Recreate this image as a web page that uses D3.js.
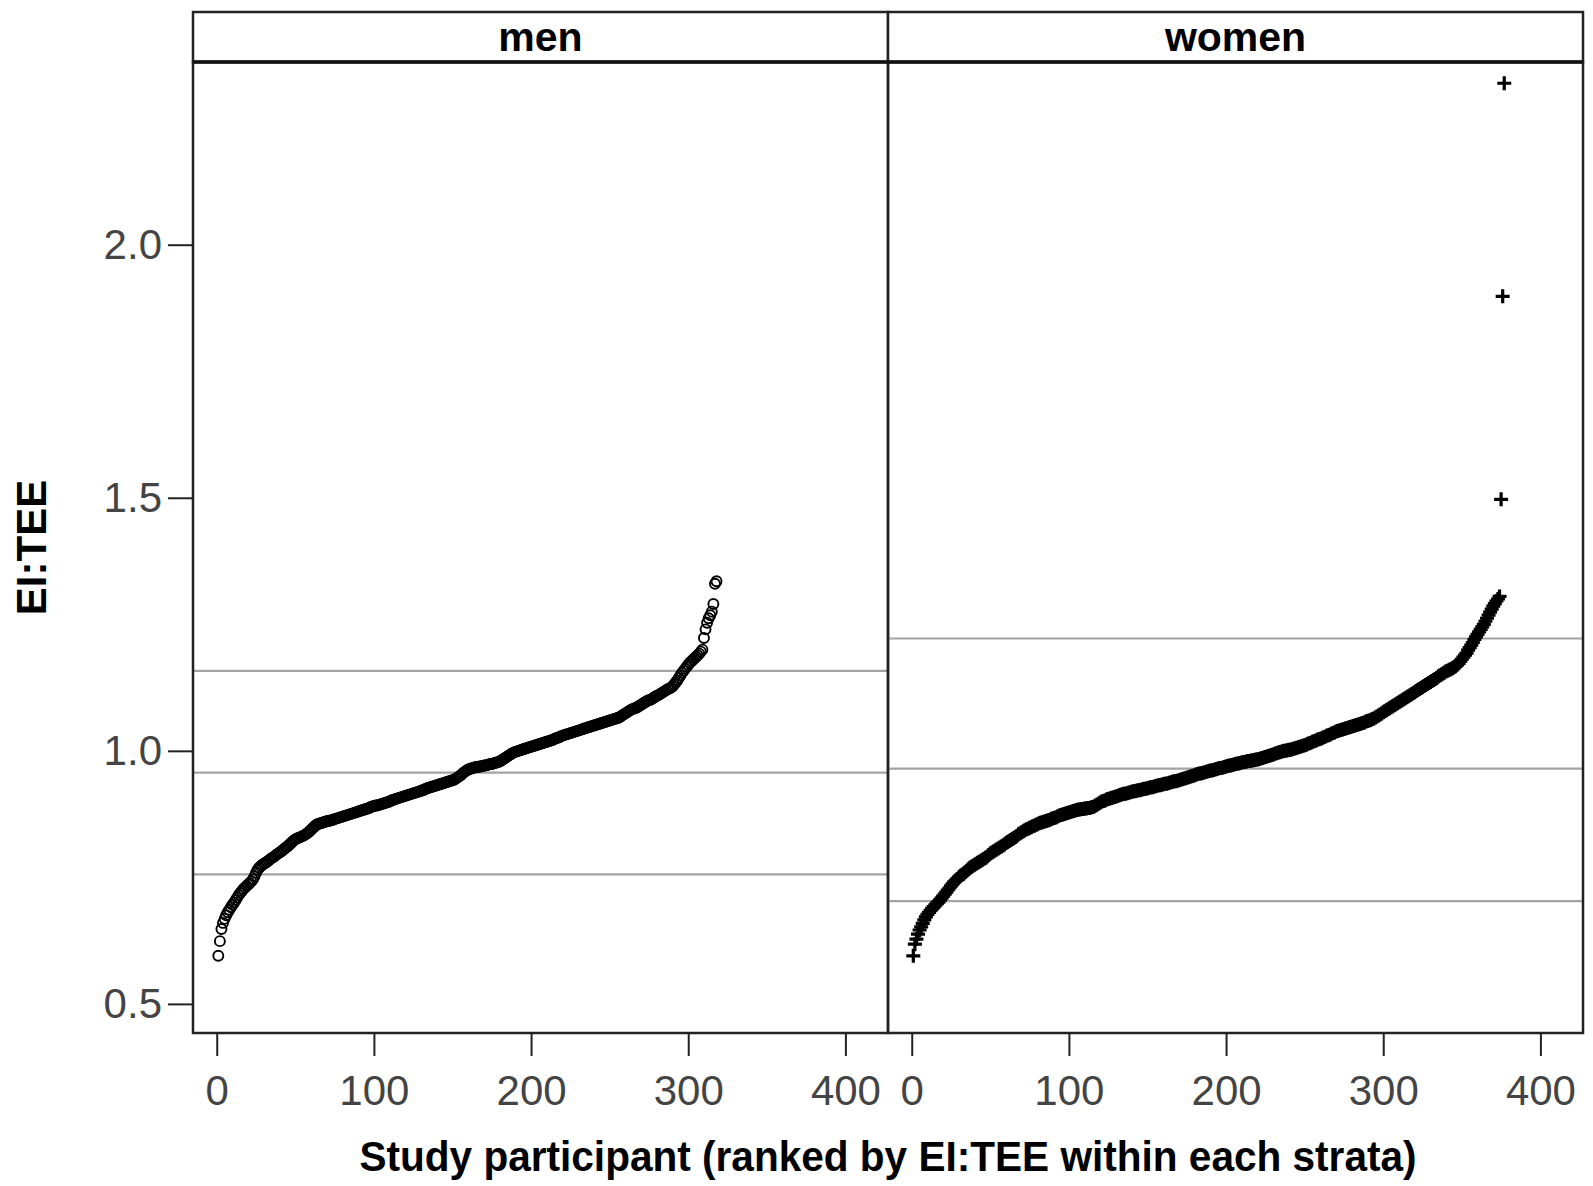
<!DOCTYPE html>
<html>
<head>
<meta charset="utf-8">
<script src="https://cdn.jsdelivr.net/npm/d3@7"></script>
<style>
  html, body { margin: 0; padding: 0; background: #fff; }
  text { font-family: "Liberation Sans", Arial, sans-serif; }
</style>
</head>
<body>
<svg id="chart" width="1593" height="1186"></svg>
<script>
// EI:TEE ranked within each stratum

const panels = ["men", "women"];

const menValues = [
  0.595, 0.624, 0.648, 0.660, 0.668, 0.675, 0.681, 0.686, 0.691, 0.696,
  0.700, 0.705, 0.710, 0.715, 0.719, 0.723, 0.727, 0.730, 0.733, 0.736,
  0.739, 0.742, 0.746, 0.752, 0.759, 0.765, 0.769, 0.772, 0.775, 0.777,
  0.779, 0.781, 0.783, 0.786, 0.788, 0.790, 0.792, 0.795, 0.797, 0.799,
  0.801, 0.804, 0.806, 0.809, 0.811, 0.814, 0.817, 0.820, 0.823, 0.825,
  0.827, 0.828, 0.829, 0.831, 0.832, 0.834, 0.836, 0.838, 0.841, 0.844,
  0.847, 0.850, 0.853, 0.855, 0.856, 0.857, 0.858, 0.859, 0.860, 0.861,
  0.862, 0.862, 0.863, 0.864, 0.865, 0.866, 0.867, 0.868, 0.869, 0.870,
  0.871, 0.872, 0.873, 0.874, 0.875, 0.876, 0.877, 0.878, 0.879, 0.880,
  0.881, 0.882, 0.883, 0.884, 0.885, 0.886, 0.887, 0.889, 0.890, 0.891,
  0.892, 0.892, 0.893, 0.894, 0.895, 0.896, 0.897, 0.898, 0.899, 0.900,
  0.902, 0.903, 0.904, 0.905, 0.906, 0.907, 0.908, 0.909, 0.910, 0.911,
  0.912, 0.913, 0.914, 0.915, 0.916, 0.917, 0.918, 0.919, 0.920, 0.921,
  0.922, 0.923, 0.925, 0.926, 0.927, 0.928, 0.929, 0.930, 0.931, 0.932,
  0.933, 0.934, 0.935, 0.936, 0.937, 0.938, 0.939, 0.940, 0.941, 0.942,
  0.943, 0.945, 0.947, 0.949, 0.951, 0.954, 0.957, 0.959, 0.961, 0.963,
  0.964, 0.965, 0.966, 0.967, 0.968, 0.968, 0.969, 0.969, 0.970, 0.971,
  0.971, 0.972, 0.973, 0.974, 0.974, 0.975, 0.976, 0.977, 0.978, 0.979,
  0.981, 0.983, 0.985, 0.987, 0.989, 0.991, 0.993, 0.995, 0.997, 0.998,
  0.999, 1.000, 1.001, 1.002, 1.003, 1.004, 1.005, 1.006, 1.007, 1.008,
  1.009, 1.010, 1.011, 1.012, 1.013, 1.014, 1.015, 1.016, 1.017, 1.018,
  1.019, 1.020, 1.021, 1.022, 1.024, 1.025, 1.026, 1.027, 1.029, 1.030,
  1.031, 1.032, 1.033, 1.034, 1.035, 1.036, 1.037, 1.038, 1.039, 1.040,
  1.041, 1.042, 1.043, 1.044, 1.045, 1.046, 1.047, 1.048, 1.049, 1.050,
  1.051, 1.052, 1.053, 1.054, 1.055, 1.056, 1.057, 1.058, 1.059, 1.060,
  1.061, 1.062, 1.063, 1.064, 1.065, 1.066, 1.068, 1.070, 1.072, 1.074,
  1.076, 1.078, 1.080, 1.082, 1.083, 1.084, 1.085, 1.087, 1.089, 1.091,
  1.093, 1.095, 1.097, 1.099, 1.100, 1.101, 1.103, 1.105, 1.107, 1.109,
  1.110, 1.112, 1.114, 1.116, 1.118, 1.120, 1.122, 1.123, 1.125, 1.127,
  1.131, 1.135, 1.139, 1.144, 1.149, 1.154, 1.158, 1.162, 1.166, 1.170,
  1.174, 1.177, 1.180, 1.183, 1.186, 1.189, 1.192, 1.196, 1.200, 1.223,
  1.240, 1.253, 1.262, 1.268, 1.275, 1.290, 1.330, 1.335
];

const womenValues = [
  0.595, 0.618, 0.628, 0.638, 0.646, 0.652, 0.659, 0.666, 0.672, 0.677,
  0.681, 0.685, 0.689, 0.692, 0.695, 0.698, 0.701, 0.705, 0.709, 0.713,
  0.717, 0.721, 0.725, 0.729, 0.733, 0.737, 0.741, 0.744, 0.747, 0.750,
  0.753, 0.755, 0.757, 0.760, 0.763, 0.766, 0.769, 0.771, 0.773, 0.775,
  0.777, 0.779, 0.781, 0.783, 0.785, 0.787, 0.789, 0.791, 0.794, 0.797,
  0.799, 0.801, 0.803, 0.805, 0.807, 0.809, 0.811, 0.813, 0.815, 0.818,
  0.820, 0.822, 0.824, 0.826, 0.828, 0.830, 0.832, 0.835, 0.837, 0.839,
  0.841, 0.843, 0.845, 0.846, 0.848, 0.849, 0.851, 0.852, 0.854, 0.855,
  0.857, 0.858, 0.859, 0.860, 0.861, 0.862, 0.863, 0.864, 0.866, 0.867,
  0.868, 0.869, 0.871, 0.872, 0.873, 0.874, 0.875, 0.876, 0.877, 0.878,
  0.879, 0.880, 0.881, 0.882, 0.883, 0.884, 0.884, 0.885, 0.885, 0.886,
  0.886, 0.887, 0.887, 0.888, 0.889, 0.890, 0.892, 0.894, 0.896, 0.898,
  0.900, 0.901, 0.902, 0.904, 0.905, 0.906, 0.907, 0.908, 0.909, 0.910,
  0.911, 0.912, 0.913, 0.914, 0.915, 0.915, 0.916, 0.917, 0.918, 0.919,
  0.920, 0.920, 0.921, 0.922, 0.922, 0.923, 0.924, 0.925, 0.925, 0.926,
  0.927, 0.928, 0.928, 0.929, 0.930, 0.931, 0.932, 0.932, 0.933, 0.934,
  0.935, 0.935, 0.936, 0.937, 0.938, 0.939, 0.940, 0.940, 0.941, 0.942,
  0.943, 0.944, 0.945, 0.946, 0.947, 0.948, 0.949, 0.950, 0.951, 0.952,
  0.953, 0.954, 0.955, 0.955, 0.956, 0.957, 0.958, 0.959, 0.960, 0.961,
  0.961, 0.962, 0.963, 0.964, 0.965, 0.966, 0.966, 0.967, 0.968, 0.969,
  0.970, 0.971, 0.971, 0.972, 0.973, 0.974, 0.975, 0.975, 0.976, 0.977,
  0.978, 0.978, 0.979, 0.980, 0.980, 0.981, 0.981, 0.982, 0.983, 0.983,
  0.984, 0.985, 0.986, 0.987, 0.988, 0.989, 0.990, 0.991, 0.992, 0.993,
  0.994, 0.995, 0.996, 0.997, 0.998, 0.999, 1.000, 1.000, 1.001, 1.002,
  1.002, 1.003, 1.004, 1.005, 1.006, 1.007, 1.008, 1.009, 1.010, 1.011,
  1.012, 1.014, 1.015, 1.016, 1.018, 1.019, 1.020, 1.022, 1.023, 1.024,
  1.025, 1.027, 1.028, 1.030, 1.031, 1.032, 1.034, 1.035, 1.036, 1.038,
  1.039, 1.040, 1.041, 1.042, 1.043, 1.044, 1.045, 1.046, 1.047, 1.048,
  1.049, 1.050, 1.051, 1.052, 1.053, 1.054, 1.055, 1.056, 1.058, 1.059,
  1.060, 1.061, 1.063, 1.064, 1.066, 1.068, 1.070, 1.072, 1.074, 1.076,
  1.078, 1.080, 1.082, 1.084, 1.086, 1.088, 1.090, 1.092, 1.094, 1.096,
  1.098, 1.100, 1.102, 1.104, 1.106, 1.108, 1.110, 1.112, 1.114, 1.116,
  1.118, 1.120, 1.122, 1.124, 1.126, 1.128, 1.130, 1.132, 1.134, 1.136,
  1.138, 1.140, 1.142, 1.144, 1.147, 1.149, 1.151, 1.153, 1.155, 1.157,
  1.158, 1.160, 1.161, 1.163, 1.165, 1.167, 1.170, 1.173, 1.177, 1.181,
  1.185, 1.189, 1.193, 1.199, 1.204, 1.209, 1.214, 1.220, 1.225, 1.230,
  1.235, 1.240, 1.245, 1.250, 1.256, 1.262, 1.268, 1.274, 1.280, 1.286,
  1.291, 1.296, 1.300, 1.305, 1.497, 1.898, 2.319
];

// grey reference lines (mean and +/- 2 SD)
const menRefLines = [0.756, 0.957, 1.158];
const womenRefLines = [0.703, 0.965, 1.222];

const xTicks = [0, 100, 200, 300, 400];
const yTicks = [0.5, 1.0, 1.5, 2.0];

const W = 1593, H = 1186;
const left = 193, right = 1583;
const stripTop = 12, plotTop = 62, plotBottom = 1033;
const panelW = (right - left) / 2;

const svg = d3.select("#chart");
svg.append("rect").attr("width", W).attr("height", H).attr("fill", "#fff");

const x = d3.scaleLinear().domain([-15.1, 427.1]).range([0, panelW]);
const y = d3.scaleLinear().domain([0.4425, 2.361]).range([plotBottom, plotTop]);

const series = {
  men: { values: menValues, refs: menRefLines },
  women: { values: womenValues, refs: womenRefLines },
};

panels.forEach((name, i) => {
  const g = svg.append("g").attr("transform", `translate(${left + i * panelW},0)`);
  const s = series[name];

  g.selectAll("line.ref")
    .data(s.refs)
    .enter()
    .append("line")
    .attr("class", "ref")
    .attr("x1", 0)
    .attr("x2", panelW)
    .attr("y1", (d) => y(d))
    .attr("y2", (d) => y(d))
    .attr("stroke", "#a3a3a3")
    .attr("stroke-width", 2.2);

  const pts = s.values.map((v, k) => ({ rank: k + 1, v: v }));
  if (name === "men") {
    g.selectAll("circle")
      .data(pts)
      .enter()
      .append("circle")
      .attr("cx", (d) => x(d.rank))
      .attr("cy", (d) => y(d.v))
      .attr("r", 5)
      .attr("fill", "none")
      .attr("stroke", "#000")
      .attr("stroke-width", 1.9);
  } else {
    g.selectAll("path.plus")
      .data(pts)
      .enter()
      .append("path")
      .attr("class", "plus")
      .attr("transform", (d) => `translate(${x(d.rank)},${y(d.v)})`)
      .attr("d", "M-7,0H7M0,-7V7")
      .attr("stroke", "#000")
      .attr("stroke-width", 3.2);
  }

  // x axis
  const ax = g.append("g")
    .attr("transform", `translate(0,${plotBottom})`)
    .call(d3.axisBottom(x).tickValues(xTicks).tickSize(23).tickSizeOuter(0));
  ax.select(".domain").remove();
  ax.selectAll(".tick line").attr("stroke", "#222").attr("stroke-width", 2);
  ax.selectAll(".tick text")
    .attr("y", 72)
    .attr("dy", null)
    .attr("fill", "#444")
    .style("font-size", "42px");

  // strip
  g.append("rect")
    .attr("x", 0).attr("y", stripTop)
    .attr("width", panelW).attr("height", plotTop - stripTop)
    .attr("fill", "#fff").attr("stroke", "#222").attr("stroke-width", 2.5);
  g.append("text")
    .attr("x", panelW / 2)
    .attr("y", 51)
    .attr("text-anchor", "middle")
    .style("font-size", "41px")
    .style("font-weight", "bold")
    .text(name);

  g.append("rect")
    .attr("x", 0).attr("y", plotTop)
    .attr("width", panelW).attr("height", plotBottom - plotTop)
    .attr("fill", "none").attr("stroke", "#222").attr("stroke-width", 2.5);
});

// thicker rule under the strips
svg.append("line")
  .attr("x1", left).attr("x2", right)
  .attr("y1", plotTop).attr("y2", plotTop)
  .attr("stroke", "#111").attr("stroke-width", 3.5);

// y axis on the left panel
const ay = svg.append("g")
  .attr("transform", `translate(${left},0)`)
  .call(d3.axisLeft(y).tickValues(yTicks).tickFormat(d3.format(".1f")).tickSize(25).tickSizeOuter(0));
ay.select(".domain").remove();
ay.selectAll(".tick line").attr("stroke", "#222").attr("stroke-width", 2);
ay.selectAll(".tick text")
  .attr("x", -31)
  .attr("fill", "#444")
  .style("font-size", "42px");

svg.append("text")
  .attr("transform", `translate(46,${(plotTop + plotBottom) / 2}) rotate(-90)`)
  .attr("text-anchor", "middle")
  .style("font-size", "42px")
  .style("font-weight", "bold")
  .text("EI:TEE");

svg.append("text")
  .attr("transform", `translate(${(left + right) / 2},1171) scale(0.966,1)`)
  .attr("text-anchor", "middle")
  .style("font-size", "42px")
  .style("font-weight", "bold")
  .text("Study participant (ranked by EI:TEE within each strata)");
</script>
</body>
</html>
